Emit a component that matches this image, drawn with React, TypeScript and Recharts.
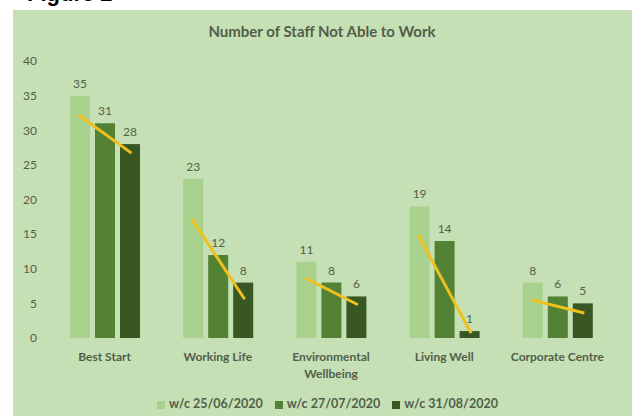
import React from "react";
import {
  ComposedChart,
  Bar,
  XAxis,
  YAxis,
  Legend,
  LabelList,
  Text,
} from "recharts";

const categories = ["Best Start", "Working Life", "Environmental Wellbeing", "Living Well", "Corporate Centre"];
const week1 = [35, 23, 11, 19, 8];
const week2 = [31, 12, 8, 14, 6];
const week3 = [28, 8, 6, 1, 5];
const trendStart = [32.2, 17.2, 8.7, 14.9, 5.5];
const trendEnd = [26.7, 5.6, 4.8, 0.7, 3.6];
const yTicks = [0, 5, 10, 15, 20, 25, 30, 35, 40];
const seriesNames = ["w/c 25/06/2020", "w/c 27/07/2020", "w/c 31/08/2020"];

const data = categories.map((c, i) => ({
  name: c,
  w1: week1[i],
  w2: week2[i],
  w3: week3[i],
  t0: trendStart[i],
  t1: trendEnd[i],
}));

const FONT = "Lato, 'Open Sans', sans-serif";
const TEXT = "#525e4a";
const BG = "#c5e0b4";
const C1 = "#a9d18e";
const C2 = "#548235";
const C3 = "#385723";
const YEL = "#f2c01e";
const BAR_SIZE = 20;
const BAR_GAP = 5;

const CatTick = (props: any) => {
  const { x, y, payload } = props;
  return (
    <Text
      x={x}
      y={y}
      dy={6}
      width={112}
      textAnchor="middle"
      verticalAnchor="start"
      fontFamily={FONT}
      fontWeight={700}
      fontSize={12}
      fill={TEXT}
      lineHeight={17}
    >
      {payload.value}
    </Text>
  );
};

// Last bar of each group also draws the group's trend segment, using the
// bar's own geometry (pixels per unit derived from the value axis scale).
const LastBarWithTrend = (props: any) => {
  const { x, y, width, height, payload, fill } = props;
  const value = payload.w3;
  const base = y + height;
  const perUnit = value ? height / value : 0;
  const cEnd = x + width / 2;
  const cStart = cEnd - 2 * (width + BAR_GAP);
  const ext = 1.5;
  return (
    <g>
      <rect x={x} y={y} width={width} height={height} fill={fill} />
      <line
        x1={cStart - ext}
        y1={base - payload.t0 * perUnit}
        x2={cEnd + ext}
        y2={base - payload.t1 * perUnit}
        stroke={YEL}
        strokeWidth={3}
      />
    </g>
  );
};

export default function App() {
  return (
    <div style={{ position: "absolute", left: 0, top: 0, width: 632, height: 416, background: "#fff", overflow: "hidden" }}>
      <div
        style={{
          position: "absolute",
          left: 27,
          top: -17,
          fontFamily: "'Liberation Sans', Arial, sans-serif",
          fontWeight: 700,
          fontSize: 22,
          lineHeight: "22px",
          color: "#000",
          whiteSpace: "nowrap",
        }}
      >
        Figure 2
      </div>
      <div style={{ position: "absolute", left: 13, top: 10, width: 619, height: 406, background: BG }} />
      <div
        style={{
          position: "absolute",
          left: 0,
          top: 22,
          width: 644,
          textAlign: "center",
          fontFamily: FONT,
          fontWeight: 700,
          fontSize: 15,
          color: TEXT,
          lineHeight: "18px",
        }}
      >
        Number of Staff Not Able to Work
      </div>
      <div style={{ position: "absolute", left: 0, top: 0 }}>
        <ComposedChart
          width={632}
          height={416}
          data={data}
          margin={{ top: 61, right: 18, left: 13, bottom: 5 }}
          barSize={BAR_SIZE}
          barGap={BAR_GAP}
        >
          <XAxis
            dataKey="name"
            axisLine={false}
            tickLine={false}
            tick={<CatTick />}
            interval={0}
            height={58}
          />
          <YAxis
            domain={[0, 40]}
            ticks={yTicks}
            axisLine={false}
            tickLine={false}
            width={35}
            tick={{ fontFamily: FONT, fontSize: 12, fill: TEXT }}
            tickMargin={5}
          />
          <Bar dataKey="w1" name={seriesNames[0]} fill={C1} isAnimationActive={false}>
            <LabelList dataKey="w1" position="top" offset={8} style={{ fontFamily: FONT, fontSize: 12, fill: TEXT }} />
          </Bar>
          <Bar dataKey="w2" name={seriesNames[1]} fill={C2} isAnimationActive={false}>
            <LabelList dataKey="w2" position="top" offset={8} style={{ fontFamily: FONT, fontSize: 12, fill: TEXT }} />
          </Bar>
          <Bar dataKey="w3" name={seriesNames[2]} fill={C3} isAnimationActive={false} shape={<LastBarWithTrend />}>
            <LabelList dataKey="w3" position="top" offset={8} style={{ fontFamily: FONT, fontSize: 12, fill: TEXT }} />
          </Bar>
          <Legend
            verticalAlign="bottom"
            align="center"
            iconType="square"
            iconSize={8}
            wrapperStyle={{ fontFamily: FONT, fontSize: 12.5, left: 33 }}
            formatter={(v: any) => (
              <span style={{ color: TEXT, fontWeight: 700, paddingRight: 2 }}>{v}</span>
            )}
          />
        </ComposedChart>
      </div>
    </div>
  );
}
